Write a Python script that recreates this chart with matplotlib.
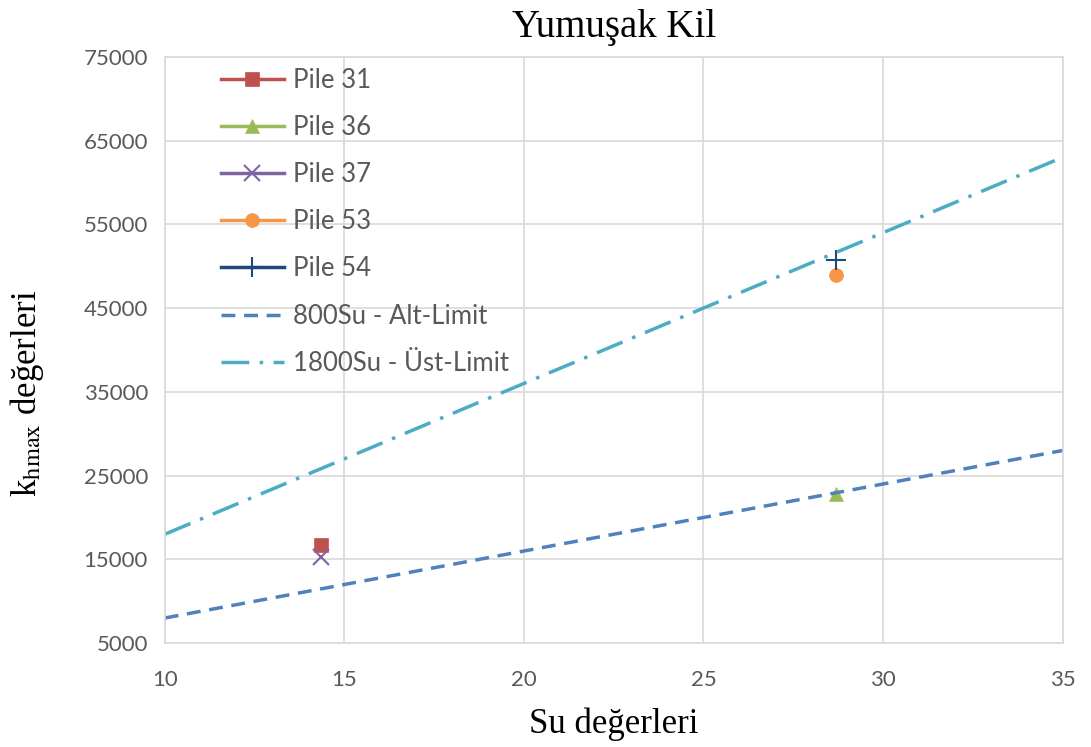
import numpy as np
import matplotlib
matplotlib.use('Agg')
import matplotlib.pyplot as plt

plt.rcParams['font.family'] = ['Lato', 'DejaVu Sans']
plt.rcParams['mathtext.fontset'] = 'stix'

# data
pile_names = ['Pile 31', 'Pile 36', 'Pile 37', 'Pile 53', 'Pile 54']
pile_su = [14.35, 28.7, 14.35, 28.7, 28.7]
pile_k = [16700, 22800, 15250, 48950, 50700]
limit_su = [10, 35]
alt_factor = 800
ust_factor = 1800

colors = ['#C0504D', '#9BBB59', '#8064A2', '#F79646', '#1F497D']
markers = ['s', '^', 'x', 'o', '+']
msizes = [10, 10, 11, 10, 14]

fig = plt.figure(figsize=(10.91, 7.47), dpi=100)
ax = fig.add_axes([0.151, 0.139, 0.823, 0.785])

for name, su, k, c, m, ms in zip(pile_names, pile_su, pile_k, colors, markers, msizes):
    ax.plot([su], [k], color=c, marker=m, markersize=ms, linewidth=2.5,
            markeredgewidth=1.5 if m in ('x', '+') else 0.5, label=name)

su = np.array(limit_su, dtype=float)
ax.plot(su, alt_factor * su, color='#4F81BD', linestyle=(0, (4, 2.5)),
        linewidth=2.5, label='800Su - Alt-Limit')
ax.plot(su, ust_factor * su, color='#4BACC6', linestyle=(0, (8, 3, 1, 3)),
        linewidth=2.5, label='1800Su - Üst-Limit')

ax.set_xlim(10, 35)
ax.set_ylim(5000, 75000)
ax.set_xticks(np.arange(10, 36, 5))
ax.set_yticks(np.arange(5000, 75001, 10000))
ax.grid(True, color='#D9D9D9', linewidth=1.2)
ax.set_axisbelow(True)
for s in ax.spines.values():
    s.set_color('#D9D9D9')
    s.set_linewidth(1.2)
ax.tick_params(length=0, labelsize=16, labelcolor='#595959')
ax.tick_params(axis='y', pad=12)
ax.tick_params(axis='x', pad=19)

ax.set_title('Yumuşak Kil', family='Liberation Serif', fontsize=28, pad=14)
ax.set_xlabel('Su değerleri', family='Liberation Serif', fontsize=25, labelpad=13)
ax.set_ylabel(r'k$_{\mathrm{hmax}}$ değerleri', family='Liberation Serif',
              fontsize=25)
ax.yaxis.set_label_coords(-0.132, 0.425)

leg = ax.legend(loc='upper left', bbox_to_anchor=(0.045, 1.007), frameon=False,
                fontsize=18.5, labelspacing=0.86, handlelength=2.45,
                handletextpad=0.35, borderaxespad=0.2)
for t in leg.get_texts():
    t.set_color('#595959')

fig.savefig('out.png', dpi=100)
